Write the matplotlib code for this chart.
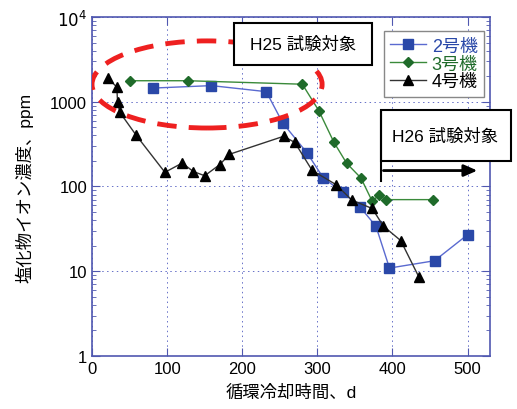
import matplotlib
matplotlib.use("Agg")
import matplotlib.pyplot as plt
from matplotlib.patches import Ellipse, Rectangle
from matplotlib.ticker import LogLocator, FixedLocator, FixedFormatter, NullFormatter

plt.rcParams['font.family'] = ['Liberation Sans', 'Noto Sans CJK JP', 'DejaVu Sans']

# 2号機
days_2 = [81, 159, 232, 254, 286, 308, 334, 357, 378, 396, 456, 500]
cl_2 = [1450, 1550, 1315, 560, 251, 126, 85, 57, 34, 10.9, 13.3, 27]

# 3号機
days_3 = [50, 128, 280, 302, 322, 339, 358, 373, 382, 391, 454]
cl_3 = [1770, 1770, 1610, 783, 333, 188, 126, 67, 79, 70, 70]

# 4号機
days_4 = [21, 33, 34, 37, 59, 97, 120, 135, 150, 170, 183, 255, 270, 293, 325,
          346, 373, 388, 411, 435]
cl_4 = [1900, 1490, 985, 750, 400, 147, 189, 150, 134, 181, 240, 391, 331, 155,
        105, 69, 55, 34, 23, 8.6]

y_ticks = [1, 10, 100, 1000, 10000]
y_labels = ["1", "10", "100", "1000", "$10^4$"]

spine_col = "#5058b0"

fig = plt.figure(figsize=(5.17, 4.10), dpi=100)
ax = fig.add_axes([0.178, 0.1293, 0.770, 0.8268])

ax.plot(days_2, cl_2, color="#5a6ad0", lw=1, marker="s", ms=7,
        mfc="#2a48a8", mec="#2a48a8", label="2号機", zorder=4)
ax.plot(days_3, cl_3, color="#3a8a3a", lw=1, marker="D", ms=5.5,
        mfc="#1f6b2a", mec="#1f6b2a", label="3号機", zorder=4)
ax.plot(days_4, cl_4, color="#333333", lw=1, marker="^", ms=7,
        mfc="black", mec="black", label="4号機", zorder=4)

ax.set_yscale("log")
ax.set_xlim(0, 530)
ax.set_ylim(1, 10000)
ax.set_xticks([0, 100, 200, 300, 400, 500])
ax.yaxis.set_major_locator(FixedLocator(y_ticks))
ax.yaxis.set_major_formatter(FixedFormatter(y_labels))
ax.yaxis.set_minor_locator(LogLocator(base=10, subs=range(2, 10)))
ax.yaxis.set_minor_formatter(NullFormatter())

ax.grid(True, which="major", color="#6670c8", ls=(0, (1.5, 3.5)), lw=0.7)
ax.tick_params(which="both", direction="in", top=True, right=True,
               color=spine_col, labelsize=12)
ax.tick_params(which="major", length=6)
ax.tick_params(which="minor", length=3)
for s in ax.spines.values():
    s.set_color(spine_col)
    s.set_linewidth(1.2)

ax.set_xlabel("循環冷却時間、d", fontsize=12.5, labelpad=6)
ax.set_ylabel("塩化物イオン濃度、ppm", fontsize=12.5, labelpad=12)

# red dashed ellipse
ell = Ellipse((0.289, 0.801), 0.578, 0.257, transform=ax.transAxes,
              fill=False, edgecolor="#ee2020", lw=3.5, ls=(0, (4, 2.5)),
              zorder=5)
ax.add_patch(ell)

# H25 box
ax.add_patch(Rectangle((0.357, 0.858), 0.347, 0.124, transform=ax.transAxes,
                       facecolor="white", edgecolor="black", lw=1.5,
                       zorder=6, clip_on=False))
ax.text(0.530, 0.920, "H25 試験対象", transform=ax.transAxes, ha="center",
        va="center", fontsize=12.5, zorder=7)

# H26 box and arrow
ax.add_patch(Rectangle((0.725, 0.574), 0.327, 0.152, transform=ax.transAxes,
                       facecolor="white", edgecolor="black", lw=1.5,
                       zorder=6, clip_on=False))
ax.text(0.888, 0.650, "H26 試験対象", transform=ax.transAxes, ha="center",
        va="center", fontsize=12.5, zorder=7)
ax.plot([0.725, 0.725], [0.72, 0.516], transform=ax.transAxes, color="black",
        lw=1.5, zorder=6, clip_on=False)
ax.annotate("", xy=(0.975, 0.547), xytext=(0.725, 0.547),
            xycoords="axes fraction",
            arrowprops=dict(arrowstyle="-|>,head_length=0.8,head_width=0.35",
                            color="black", lw=2), zorder=6)

leg = ax.legend(loc="upper right", bbox_to_anchor=(0.985, 0.958),
                borderaxespad=0, fontsize=13, handlelength=2.0,
                labelspacing=0.05, handletextpad=0.3, borderpad=0.35,
                fancybox=False, framealpha=1, edgecolor="#888888")
leg.set_zorder(8)
for txt, c in zip(leg.get_texts(), ["#2a48a8", "#1f6b2a", "black"]):
    txt.set_color(c)

fig.savefig("out.png", dpi=100)
